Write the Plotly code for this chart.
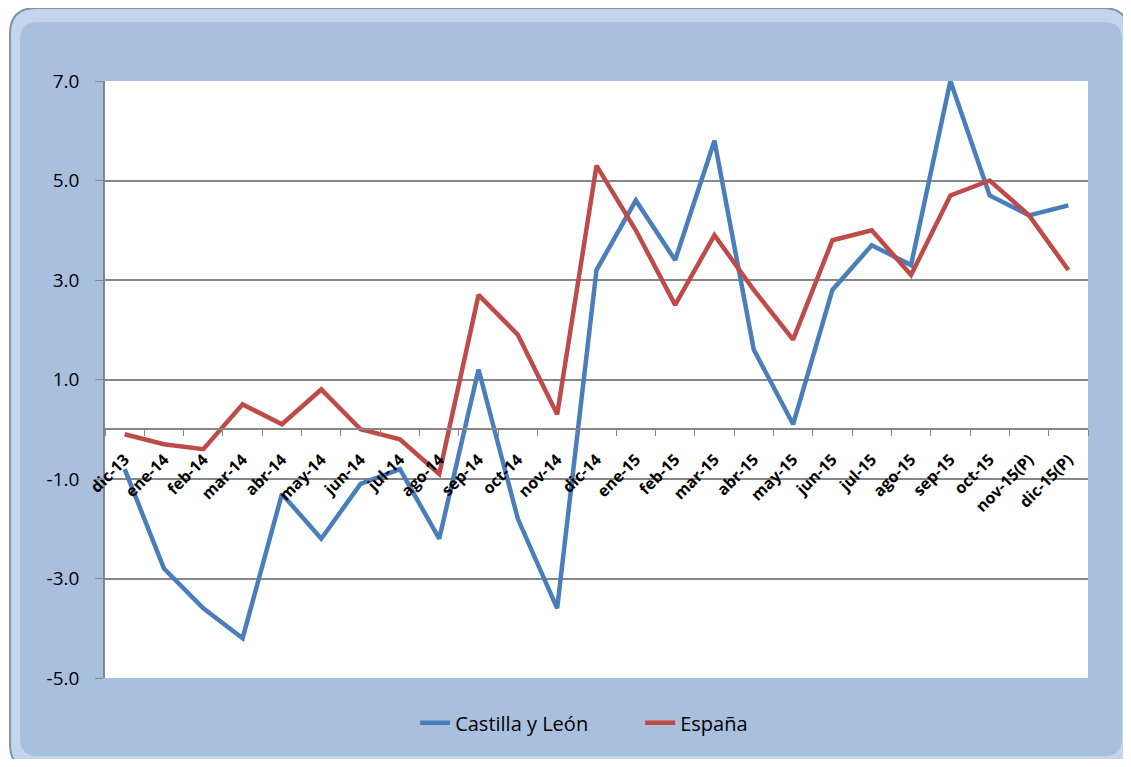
import plotly.graph_objects as go

meses = ["dic-13", "ene-14", "feb-14", "mar-14", "abr-14", "may-14", "jun-14",
         "jul-14", "ago-14", "sep-14", "oct-14", "nov-14", "dic-14", "ene-15",
         "feb-15", "mar-15", "abr-15", "may-15", "jun-15", "jul-15", "ago-15",
         "sep-15", "oct-15", "nov-15(P)", "dic-15(P)"]

castilla_leon = [-0.8, -2.8, -3.6, -4.2, -1.3, -2.2, -1.1, -0.8, -2.2, 1.2,
                 -1.8, -3.6, 3.2, 4.6, 3.4, 5.8, 1.6, 0.1, 2.8, 3.7, 3.3,
                 7.0, 4.7, 4.3, 4.5]

espana = [-0.1, -0.3, -0.4, 0.5, 0.1, 0.8, 0.0, -0.2, -0.9, 2.7, 1.9, 0.3,
          5.3, 4.0, 2.5, 3.9, 2.8, 1.8, 3.8, 4.0, 3.1, 4.7, 5.0, 4.3, 3.2]

y_ticks = [-5, -3, -1, 1, 3, 5, 7]
y_labels = ["%.1f" % v for v in y_ticks]  # guion normal, como en Excel

# area de trazado en pixeles de la figura
L, T, W, H = 97, 73, 983, 597


def rounded(px0, py0, px1, py1, r):
    """Ruta SVG de un rectangulo redondeado, de pixeles a coordenadas paper."""
    def p(x, y):
        return f"{(x - L) / W:.5f},{(T + H - y) / H:.5f}"
    return (f"M {p(px0 + r, py0)} L {p(px1 - r, py0)} Q {p(px1, py0)} {p(px1, py0 + r)} "
            f"L {p(px1, py1 - r)} Q {p(px1, py1)} {p(px1 - r, py1)} L {p(px0 + r, py1)} "
            f"Q {p(px0, py1)} {p(px0, py1 - r)} L {p(px0, py0 + r)} Q {p(px0, py0)} {p(px0 + r, py0)} Z")


fig = go.Figure()
fig.add_trace(go.Scatter(x=meses, y=castilla_leon, mode="lines", name="Castilla y León",
                         line=dict(color="#4A7EBB", width=4.5)))
fig.add_trace(go.Scatter(x=meses, y=espana, mode="lines", name="España",
                         line=dict(color="#BE4B48", width=4.5)))

# marco azul con bisel
fig.add_shape(type="path", path=rounded(2, 0, 1121, 762, 26), xref="paper", yref="paper",
              layer="below", fillcolor="#C3D4EC", line=dict(color="#7F95A8", width=2))
fig.add_shape(type="path", path=rounded(12, 14, 1114, 748, 18), xref="paper", yref="paper",
              layer="below", fillcolor="#A9BFDE", line=dict(width=0))
fig.add_shape(type="rect", xref="paper", yref="paper", x0=0, x1=1, y0=0, y1=1,
              layer="below", fillcolor="white", line=dict(width=0))

fig.update_layout(
    width=1115, height=751,
    margin=dict(l=L, r=1115 - L - W, t=T, b=751 - T - H),
    paper_bgcolor="white",
    plot_bgcolor="rgba(0,0,0,0)",
    font=dict(family="Open Sans, DejaVu Sans", color="black"),
    showlegend=True,
    legend=dict(orientation="h", x=0.3155, xanchor="left", y=-0.075, yanchor="middle",
                font=dict(size=20), bgcolor="rgba(0,0,0,0)",
                entrywidth=180, traceorder="normal"),
    xaxis=dict(
        type="category", anchor="free", position=5 / 12,
        tickangle=-45, tickson="boundaries", ticks="outside", ticklen=6,
        tickcolor="#868686", showline=True, linecolor="#868686", linewidth=1.5,
        showgrid=False, tickfont=dict(size=16, weight="bold"),
        ticklabelstandoff=14,
        range=[-0.5, len(meses) - 0.5],
    ),
    yaxis=dict(
        range=[-5, 7], tickvals=y_ticks, ticktext=y_labels, ticks="outside", ticklen=8,
        tickcolor="#868686", showline=True, linecolor="#868686", linewidth=1.5,
        gridcolor="#868686", gridwidth=1.5, zeroline=False,
        tickfont=dict(size=19), ticklabelstandoff=12,
    ),
)

fig.write_html("out.html")
